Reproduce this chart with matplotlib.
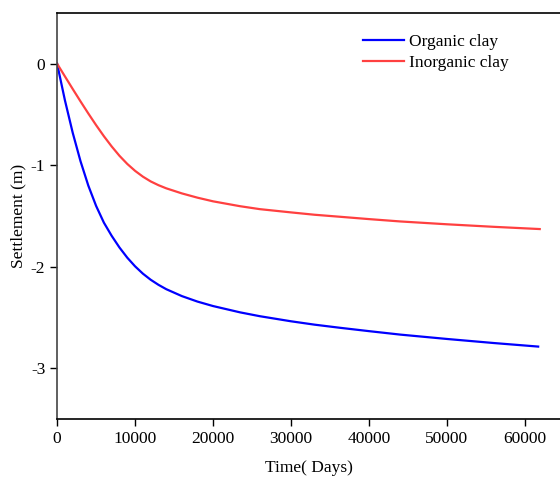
import matplotlib.pyplot as plt

plt.rcParams['font.family'] = ['Liberation Serif', 'DejaVu Serif']

# data
t_org = [0, 1000, 2000, 3000, 4000, 5000, 6000, 7000, 8000, 9000, 10000, 11000,
         12000, 13000, 14000, 16000, 18000, 20000, 23460, 26000, 30000, 33000,
         36280, 40000, 44000, 50000, 56000, 61700]
s_org = [0, -0.36, -0.68, -0.96, -1.20, -1.40, -1.565, -1.695, -1.81, -1.91, -1.995, -2.067,
         -2.127, -2.177, -2.22, -2.288, -2.342, -2.386, -2.448, -2.486, -2.536, -2.569,
         -2.60, -2.633, -2.667, -2.71, -2.75, -2.785]

t_inorg = [0, 1000, 2000, 3000, 4000, 5000, 6000, 7000, 8000, 9000, 10000, 11000,
           12000, 13000, 14000, 16000, 18000, 20000, 23460, 26000, 30000, 33000,
           36280, 40000, 44000, 50000, 56000, 61900]
s_inorg = [0, -0.125, -0.249, -0.371, -0.490, -0.605, -0.714, -0.815, -0.907, -0.987, -1.055, -1.112,
           -1.159, -1.196, -1.227, -1.277, -1.319, -1.355, -1.403, -1.432, -1.464, -1.487,
           -1.507, -1.530, -1.553, -1.581, -1.606, -1.628]

xticks = [0, 10000, 20000, 30000, 40000, 50000, 60000]
yticks = [0, -1, -2, -3]

fig = plt.figure(figsize=(5.6, 4.78), dpi=100)
ax = fig.add_axes([0.102, 0.123, 0.898, 0.850])

ax.plot(t_org, s_org, color='#0000ff', lw=1.6, label='Organic clay')
ax.plot(t_inorg, s_inorg, color='#ff4040', lw=1.6, label='Inorganic clay')

ax.set_xlim(0, 64500)
ax.set_ylim(-3.5, 0.5)
ax.set_xticks(xticks)
ax.set_yticks(yticks)
ax.set_xticklabels([str(v) for v in xticks])
ax.set_yticklabels([str(v) for v in yticks])
ax.tick_params(labelsize=12.5, direction='out', length=5, width=1)
ax.spines['right'].set_visible(False)
for s in ['left', 'bottom', 'top']:
    ax.spines[s].set_linewidth(1.2)
ax.spines['left'].set_color('#444444')

ax.set_xlabel('Time( Days)', fontsize=12.5, labelpad=9)
ax.set_ylabel('Settlement (m)', fontsize=12.5, labelpad=3)

ax.legend(loc='upper left', bbox_to_anchor=(0.566, 1.0), frameon=False,
          fontsize=12.5, handlelength=2.4, handletextpad=0.3,
          labelspacing=0.3, borderaxespad=0.8)

fig.savefig('out.png', dpi=100)
